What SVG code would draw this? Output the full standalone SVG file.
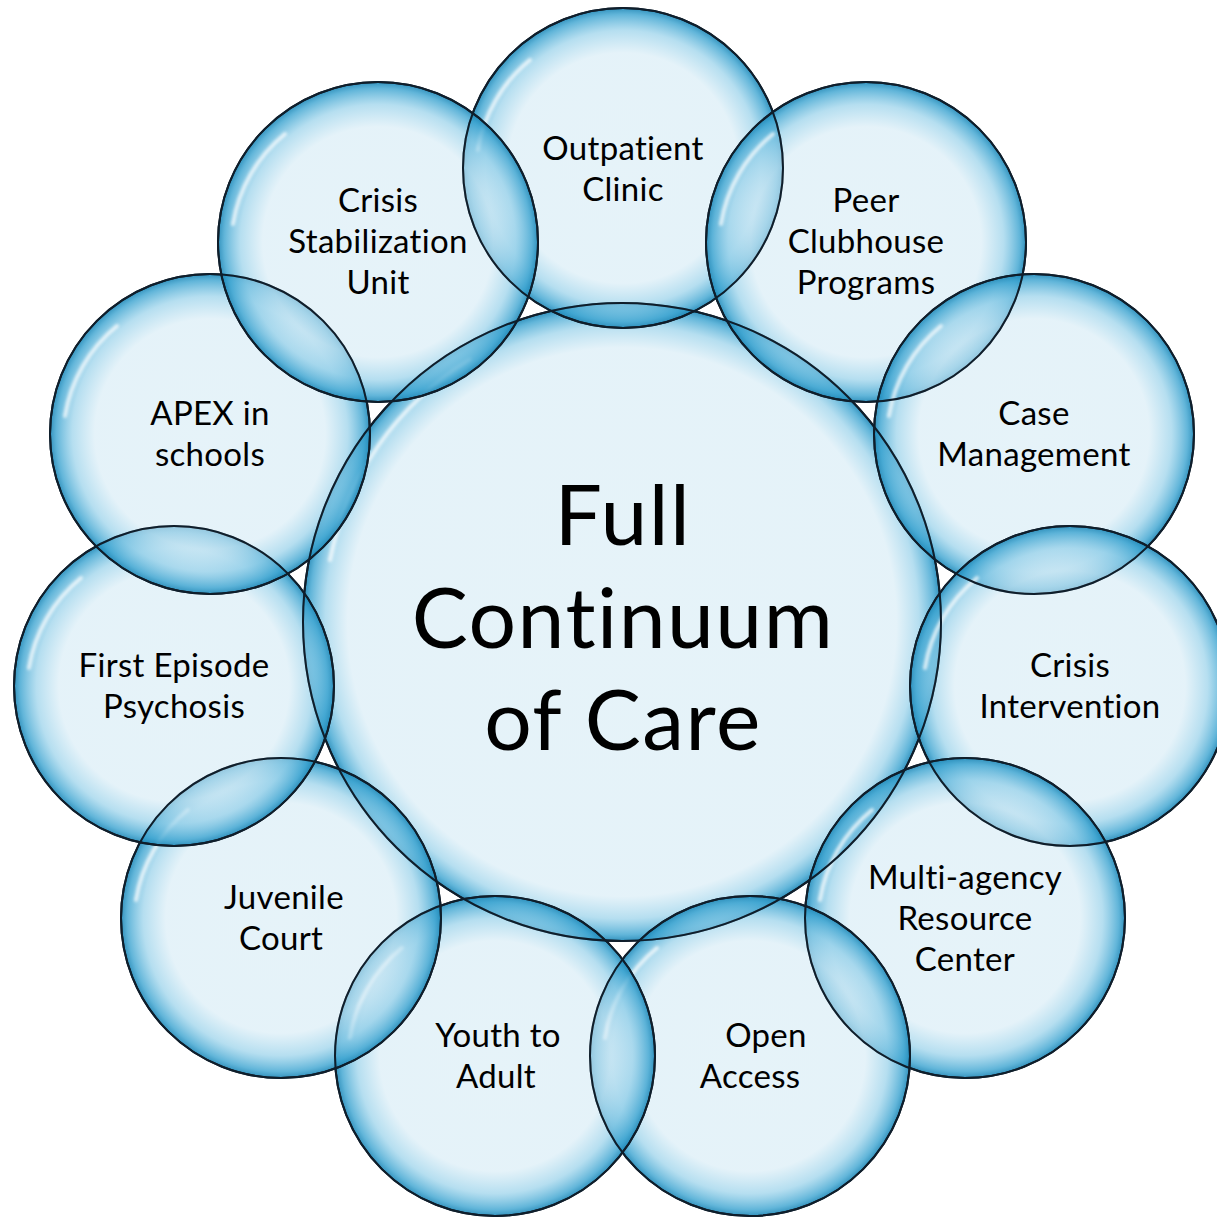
<svg xmlns="http://www.w3.org/2000/svg" width="1217" height="1217" viewBox="0 0 1217 1217">
<defs>
<radialGradient id="gOuter" cx="0.5" cy="0.5" r="0.5">
<stop offset="0" stop-color="#d5ebf5" stop-opacity="0.6"/>
<stop offset="0.72" stop-color="#d3eaf5" stop-opacity="0.6"/>
<stop offset="0.86" stop-color="#8ecde8" stop-opacity="0.65"/>
<stop offset="0.96" stop-color="#3aa3d0" stop-opacity="0.8"/>
<stop offset="1" stop-color="#1c86b6" stop-opacity="0.9"/>
</radialGradient>
<radialGradient id="gCenter" cx="0.5" cy="0.5" r="0.5">
<stop offset="0" stop-color="#d5ebf5" stop-opacity="0.6"/>
<stop offset="0.86" stop-color="#d3eaf5" stop-opacity="0.6"/>
<stop offset="0.93" stop-color="#8ecde8" stop-opacity="0.65"/>
<stop offset="0.98" stop-color="#3aa3d0" stop-opacity="0.8"/>
<stop offset="1" stop-color="#1c86b6" stop-opacity="0.9"/>
</radialGradient>
<filter id="soft" x="-10%" y="-10%" width="120%" height="120%"><feGaussianBlur stdDeviation="1.5"/></filter>
</defs>
<style>
.outer{fill:url(#gOuter);stroke:#0f1e2b;stroke-width:2}
.center{fill:url(#gCenter);stroke:#0f1e2b;stroke-width:2}
.rim{fill:none;stroke:#0f1e2b;stroke-width:2}
.hl{fill:none;stroke:#ffffff;stroke-width:4;stroke-linecap:round;opacity:0.75;filter:url(#soft)}
.lbl{font-family:Lato,"Open Sans","Liberation Sans",sans-serif;font-size:33px;fill:#000;text-anchor:middle;font-variant-ligatures:none;letter-spacing:0.3px}
.big{font-family:Lato,"Open Sans","Liberation Sans",sans-serif;font-size:84px;fill:#000;text-anchor:middle;font-variant-ligatures:none;letter-spacing:1.5px}
</style>
<rect width="1217" height="1217" fill="#ffffff"/>

<g id="node-center">
<circle class="center" cx="622" cy="622" r="319"/>
<path class="hl" d="M 330 560 A 300 300 0 0 1 470 360"/>
</g>

<g id="node-outpatient">
<circle class="outer" cx="623" cy="168" r="160"/>
<path class="hl" d="M 478 150 A 146 146 0 0 1 530 60"/>
</g>

<g id="node-peer">
<circle class="outer" cx="866" cy="242" r="160"/>
<path class="hl" d="M 721 224 A 146 146 0 0 1 773 134"/>
</g>

<g id="node-case">
<circle class="outer" cx="1034" cy="434" r="160"/>
<path class="hl" d="M 889 416 A 146 146 0 0 1 941 326"/>
</g>

<g id="node-crisis-intervention">
<circle class="outer" cx="1070" cy="686" r="160"/>
<path class="hl" d="M 925 668 A 146 146 0 0 1 977 578"/>
</g>

<g id="node-multiagency">
<circle class="outer" cx="965" cy="918" r="160"/>
<path class="hl" d="M 820 900 A 146 146 0 0 1 872 810"/>
</g>

<g id="node-open-access">
<circle class="outer" cx="750" cy="1056" r="160"/>
<path class="hl" d="M 605 1038 A 146 146 0 0 1 657 948"/>
</g>

<g id="node-youth">
<circle class="outer" cx="495" cy="1056" r="160"/>
<path class="hl" d="M 350 1038 A 146 146 0 0 1 402 948"/>
</g>

<g id="node-juvenile">
<circle class="outer" cx="281" cy="918" r="160"/>
<path class="hl" d="M 136 900 A 146 146 0 0 1 188 810"/>
</g>

<g id="node-first-episode">
<circle class="outer" cx="174" cy="686" r="160"/>
<path class="hl" d="M 29 668 A 146 146 0 0 1 81 578"/>
</g>

<g id="node-apex">
<circle class="outer" cx="210" cy="434" r="160"/>
<path class="hl" d="M 65 416 A 146 146 0 0 1 117 326"/>
</g>

<g id="node-crisis-stabilization">
<circle class="outer" cx="378" cy="242" r="160"/>
<path class="hl" d="M 233 224 A 146 146 0 0 1 285 134"/>
</g>

<g id="outlines">
<circle class="rim" cx="622" cy="622" r="319"/>
<circle class="rim" cx="623" cy="168" r="160"/>
<circle class="rim" cx="866" cy="242" r="160"/>
<circle class="rim" cx="1034" cy="434" r="160"/>
<circle class="rim" cx="1070" cy="686" r="160"/>
<circle class="rim" cx="965" cy="918" r="160"/>
<circle class="rim" cx="750" cy="1056" r="160"/>
<circle class="rim" cx="495" cy="1056" r="160"/>
<circle class="rim" cx="281" cy="918" r="160"/>
<circle class="rim" cx="174" cy="686" r="160"/>
<circle class="rim" cx="210" cy="434" r="160"/>
<circle class="rim" cx="378" cy="242" r="160"/>
</g>

<g id="labels">
<text id="label-center" class="big"><tspan x="623" y="545">Full</tspan><tspan x="623" y="648">Continuum</tspan><tspan x="623" y="750">of Care</tspan></text>
<text id="label-outpatient" class="lbl"><tspan x="623" y="160">Outpatient</tspan><tspan x="623" y="201">Clinic</tspan></text>
<text id="label-peer" class="lbl"><tspan x="866" y="212">Peer</tspan><tspan x="866" y="253">Clubhouse</tspan><tspan x="866" y="294">Programs</tspan></text>
<text id="label-case" class="lbl"><tspan x="1034" y="425">Case</tspan><tspan x="1034" y="466">Management</tspan></text>
<text id="label-crisis-intervention" class="lbl"><tspan x="1070" y="677">Crisis</tspan><tspan x="1070" y="718">Intervention</tspan></text>
<text id="label-multiagency" class="lbl"><tspan x="965" y="889">Multi-agency</tspan><tspan x="965" y="930">Resource</tspan><tspan x="965" y="971">Center</tspan></text>
<text id="label-open-access" class="lbl"><tspan x="766" y="1047">Open</tspan><tspan x="750" y="1088">Access</tspan></text>
<text id="label-youth" class="lbl"><tspan x="498" y="1047">Youth to</tspan><tspan x="496" y="1088">Adult</tspan></text>
<text id="label-juvenile" class="lbl"><tspan x="284" y="909">Juvenile</tspan><tspan x="281" y="950">Court</tspan></text>
<text id="label-first-episode" class="lbl"><tspan x="174" y="677">First Episode</tspan><tspan x="174" y="718">Psychosis</tspan></text>
<text id="label-apex" class="lbl"><tspan x="210" y="425">APEX in</tspan><tspan x="210" y="466">schools</tspan></text>
<text id="label-crisis-stabilization" class="lbl"><tspan x="378" y="212">Crisis</tspan><tspan x="378" y="253">Stabilization</tspan><tspan x="378" y="294">Unit</tspan></text>
</g>

<g id="connectors"></g>
</svg>
